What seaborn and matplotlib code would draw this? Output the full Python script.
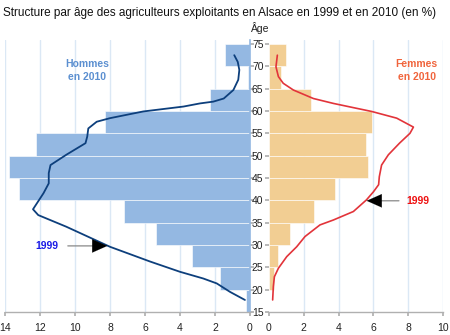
import matplotlib
matplotlib.use("Agg")
import matplotlib.pyplot as plt
import seaborn as sns
import pandas as pd

sns.set_theme(style="white")
plt.rcParams['font.family'] = ['Liberation Sans', 'DejaVu Sans']

# ---- data ----
age_mid = [17.5, 22.5, 27.5, 32.5, 37.5, 42.5, 47.5, 52.5, 57.5, 62.5, 67.5, 72.5]
hommes_2010 = [0.2, 1.7, 3.3, 5.4, 7.2, 13.2, 13.8, 12.2, 8.3, 2.3, 0.1, 1.4]
femmes_2010 = [0.0, 0.3, 0.5, 1.2, 2.6, 3.8, 5.7, 5.6, 5.9, 2.4, 0.7, 1.0]

ages_h1999 = [72.5, 71.0, 69.2, 67.0, 64.7, 62.8, 62.1, 61.7, 61.0, 59.9, 58.4, 57.6, 56.1,
              54.3, 52.8, 50.2, 47.9, 46.1, 43.8, 41.6, 38.0, 36.7, 34.1, 29.6, 26.3,
              24.0, 22.5, 21.4, 19.5, 17.7]
hommes_1999 = [0.9, 0.7, 0.61, 0.67, 0.95, 1.5, 2.1, 2.86, 3.8, 6.1, 8.0, 8.76, 9.24,
               9.3, 9.4, 10.5, 11.4, 11.5, 11.5, 11.8, 12.4, 12.1, 10.5, 8.0, 5.71,
               4.0, 2.67, 1.9, 1.14, 0.29]

ages_f1999 = [72.5, 69.9, 67.7, 66.2, 64.7, 62.8, 61.7, 60.6, 59.9, 58.4, 56.4, 55.0,
              52.8, 50.2, 47.9, 45.3, 43.5, 41.9, 40.1, 37.5, 35.6, 34.5, 31.9, 29.6,
              27.4, 24.8, 22.9, 20.7, 17.7]
femmes_1999 = [0.48, 0.4, 0.54, 0.82, 1.4, 2.55, 3.7, 5.04, 5.9, 7.34, 8.3, 8.1,
               7.5, 6.86, 6.47, 6.34, 6.3, 6.0, 5.6, 4.85, 3.7, 2.93, 2.07, 1.59,
               1.02, 0.54, 0.31, 0.25, 0.21]

left_ticks = [14, 12, 10, 8, 6, 4, 2, 0]
right_ticks = [0, 2, 4, 6, 8, 10]
age_ticks = [15, 20, 25, 30, 35, 40, 45, 50, 55, 60, 65, 70, 75]

title = "Structure par âge des agriculteurs exploitants en Alsace en 1999 et en 2010 (en %)"

# ---- colours ----
c_hbar = "#94b8e2"
c_fbar = "#f2ce93"
c_hline = "#0d3f7c"
c_fline = "#e2343a"
c_grid = "#dbe8f5"
c_axis = "#b0b0b0"

W, H = 450, 335
fig = plt.figure(figsize=(W / 100, H / 100), dpi=100)
ylo, yhi = 15, 75.9
bot = 1 - 312 / H
hgt = (312 - 40) / H
axL = fig.add_axes([5 / W, bot, 245 / W, hgt])
axR = fig.add_axes([269 / W, bot, 174 / W, hgt])

bins = list(range(15, 80, 5))
dfh = pd.DataFrame({"age": age_mid, "v": hommes_2010})
dff = pd.DataFrame({"age": age_mid, "v": femmes_2010})
sns.histplot(data=dfh, y="age", weights="v", bins=bins, ax=axL, color=c_hbar,
             alpha=1, edgecolor="white", linewidth=0.4)
sns.histplot(data=dff, y="age", weights="v", bins=bins, ax=axR, color=c_fbar,
             alpha=1, edgecolor="white", linewidth=0.4)

dh = pd.DataFrame({"age": ages_h1999, "v": hommes_1999})
df = pd.DataFrame({"age": ages_f1999, "v": femmes_1999})
sns.lineplot(data=dh, x="v", y="age", sort=False, orient="y", ax=axL, color=c_hline, lw=1.3)
sns.lineplot(data=df, x="v", y="age", sort=False, orient="y", ax=axR, color=c_fline, lw=1.2)

for ax in (axL, axR):
    ax.set_ylim(ylo, yhi)
    ax.set_xlabel("")
    ax.set_ylabel("")
    ax.grid(False)
    for s in ax.spines.values():
        s.set_visible(False)
    ax.spines["bottom"].set_visible(True)
    ax.spines["bottom"].set_color(c_axis)
    ax.spines["bottom"].set_linewidth(1.0)
    ax.tick_params(axis="x", which="both", bottom=True, length=3, color=c_axis,
                   labelsize=7.5, pad=5, labelcolor="#222222")
    ax.set_facecolor("none")

axL.set_xlim(14, 0)
axL.set_xticks(left_ticks)
axR.set_xlim(0, 10)
axR.set_xticks(right_ticks)

for v in left_ticks[:-1]:
    axL.axvline(v, color=c_grid, lw=1.0, zorder=0)
for v in right_ticks[1:]:
    axR.axvline(v, color=c_grid, lw=1.0, zorder=0)

axL.spines["right"].set_visible(True)
axL.spines["right"].set_color(c_hbar)
axL.spines["right"].set_linewidth(1.2)
axL.set_yticks(age_ticks)
axL.tick_params(axis="y", left=False, right=True, labelleft=False, labelright=False,
                length=3, color=c_axis)
axR.set_yticks(age_ticks)
axR.set_yticklabels([str(a) for a in age_ticks])
axR.tick_params(axis="y", left=True, labelleft=True, length=3, color=c_axis,
                labelsize=7.5, pad=1, labelcolor="#222222")

# labels
axL.text(9.31, 69.0, "Hommes\nen 2010", color="#5b8fd0", fontsize=7.5, fontweight="bold",
         ha="center", va="center", linespacing=1.35)
axR.text(8.49, 69.0, "Femmes\nen 2010", color="#f0643c", fontsize=7.5, fontweight="bold",
         ha="center", va="center", linespacing=1.35)

axL.text(11.6, 29.8, "1999", color="#1a1ae6", fontsize=7.5, fontweight="bold",
         ha="center", va="center")
axR.text(8.56, 39.9, "1999", color="#ee1111", fontsize=7.5, fontweight="bold",
         ha="center", va="center")

# arrows: grey shaft + black head
axL.annotate("", xy=(8.6, 29.8), xytext=(10.57, 29.8),
             arrowprops=dict(arrowstyle="-", color="#888888", lw=0.9))
axL.annotate("", xy=(8.15, 29.8), xytext=(8.9, 29.8),
             arrowprops=dict(arrowstyle="-|>,head_length=0.9,head_width=0.4",
                             color="black", lw=0.1, shrinkA=0, shrinkB=0))
axR.annotate("", xy=(6.1, 39.9), xytext=(7.63, 39.9),
             arrowprops=dict(arrowstyle="-", color="#888888", lw=0.9))
axR.annotate("", xy=(5.61, 39.9), xytext=(6.3, 39.9),
             arrowprops=dict(arrowstyle="-|>,head_length=0.9,head_width=0.4",
                             color="black", lw=0.1, shrinkA=0, shrinkB=0))

fig.text(3 / W, 1 - 13 / H, title, fontsize=8.5, ha="left", va="center", color="#111111")
fig.text(260 / W, 1 - 28 / H, "Âge", fontsize=7.5, ha="center", va="center", color="#222222")

fig.savefig("out.png", dpi=100)
